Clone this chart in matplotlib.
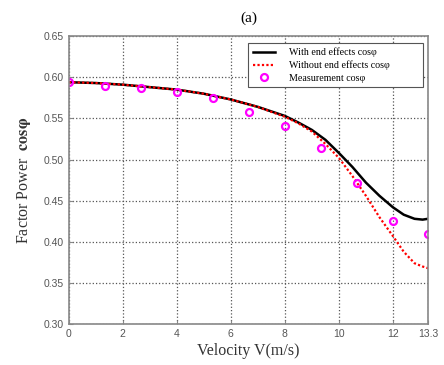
import numpy as np
import matplotlib
matplotlib.use("Agg")
from matplotlib import pyplot as plt

# velocity grid for the computed curves
v_curve = [0, 1, 2, 3, 4, 5, 6, 7, 8, 8.5, 9, 9.5, 10, 10.5, 11, 11.5, 12, 12.4, 12.8, 13.1, 13.3]
pf_end = [0.594, 0.593, 0.591, 0.588, 0.585, 0.580, 0.573, 0.564, 0.553, 0.545, 0.536, 0.524,
          0.508, 0.491, 0.472, 0.456, 0.442, 0.433, 0.428, 0.427, 0.428]
pf_noend = [0.594, 0.593, 0.591, 0.588, 0.585, 0.580, 0.573, 0.564, 0.552, 0.544, 0.534, 0.519,
            0.502, 0.480, 0.456, 0.430, 0.407, 0.388, 0.374, 0.370, 0.368]

# measured points
v_meas = [0, 1.33, 2.67, 4, 5.33, 6.67, 8, 9.33, 10.67, 12, 13.3]
pf_meas = [0.594, 0.590, 0.587, 0.582, 0.575, 0.558, 0.541, 0.514, 0.472, 0.425, 0.409]

xticks = [0, 2, 4, 6, 8, 10, 12, 13.3]
xticklabels = ["0", "2", "4", "6", "8", "10", "12", "13.3"]
yticks = [0.30, 0.35, 0.40, 0.45, 0.50, 0.55, 0.60, 0.65]

plt.rcParams["mathtext.fontset"] = "stix"

fig = plt.figure(figsize=(4.44, 3.65), dpi=100)
ax = fig.add_axes([0.155, 0.112, 0.809, 0.789])

ax.plot(v_curve, pf_end, color="black", lw=1.8, label="With end effects cos\u03c6")
ax.plot(v_curve, pf_noend, color="red", lw=1.6, ls=(0, (1, 1)), label="Without end effects cos\u03c6")
ax.plot(v_meas, pf_meas, ls="none", marker="o", ms=5, mfc="none", mec="magenta", mew=1.6,
        label="Measurement cos\u03c6")

ax.set_xlim(0, 13.3)
ax.set_ylim(0.30, 0.65)
ax.set_xticks(xticks)
ax.set_xticklabels(xticklabels)
ax.set_yticks(yticks)
ax.set_yticklabels(["%.2f" % t for t in yticks])
ax.tick_params(labelsize=7.5, labelcolor="#555555", color="#888888", length=3, direction="in")
for lab in ax.get_xticklabels() + ax.get_yticklabels():
    lab.set_family("Liberation Sans")
for s in ax.spines.values():
    s.set_color("#888888")
    s.set_linewidth(1.2)
ax.grid(True, ls=":", color="#555555", lw=0.9)

ax.set_xlabel("Velocity V(m/s)", family="Liberation Serif", fontsize=11.5, color="#333333",
              labelpad=3)
ax.set_ylabel(r"Factor Power  $\mathbf{cos}\boldsymbol{\varphi}$", family="Liberation Serif",
              fontsize=11.5, color="#333333", labelpad=8)
ax.set_title("(a)", family="Liberation Serif", fontsize=11, pad=10)

leg = ax.legend(loc="upper left", bbox_to_anchor=(0.499, 0.816, 0.487, 0.16), mode="expand",
                borderaxespad=0, prop={"family": "Liberation Serif", "size": 7.2},
                fancybox=False, edgecolor="#555555", framealpha=1,
                handlelength=2.2, handletextpad=1.4, labelspacing=0.35, borderpad=0.45)
leg.get_frame().set_linewidth(0.8)

fig.savefig("out.png", dpi=100)
